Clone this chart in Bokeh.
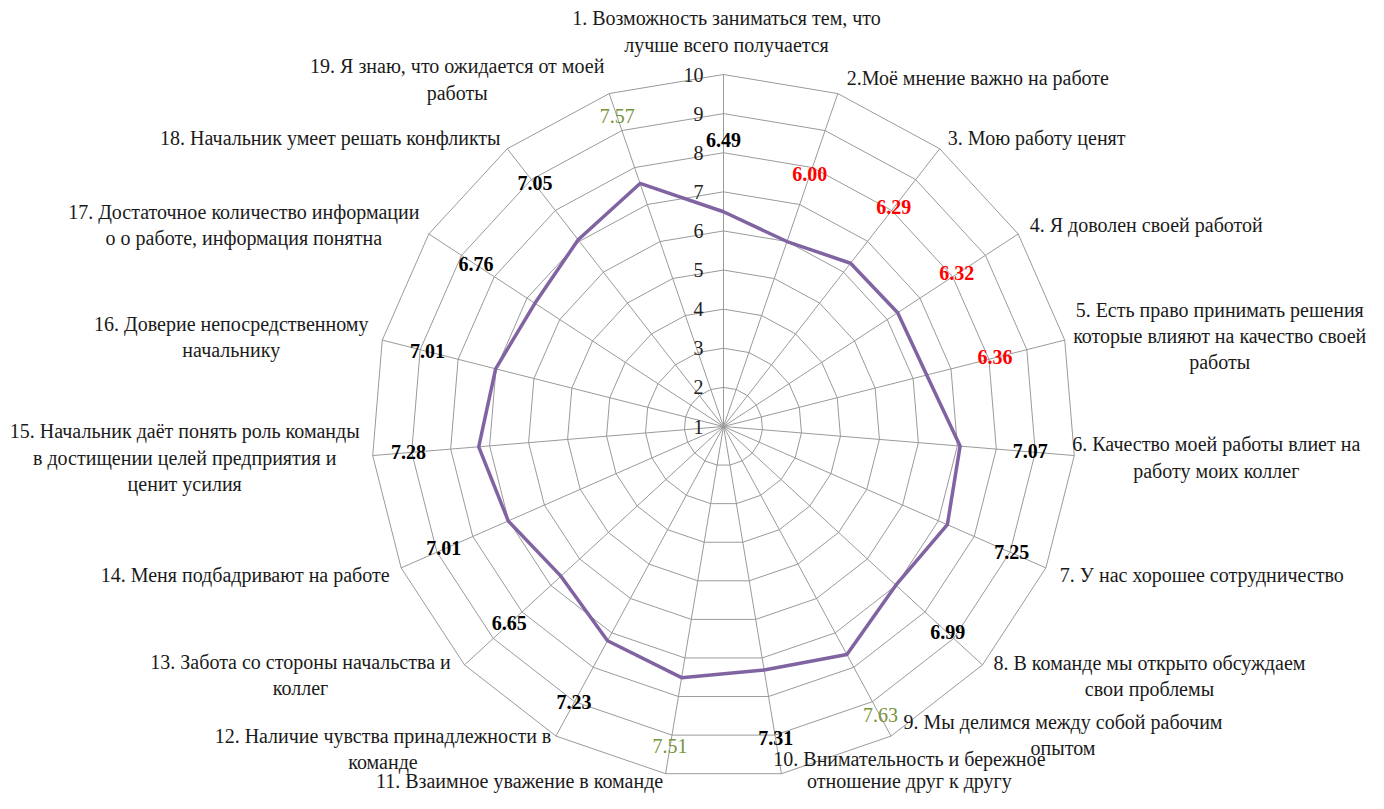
import numpy as np
from bokeh.plotting import figure
from bokeh.models import Range1d, ColumnDataSource
from bokeh.embed import file_html
from bokeh.resources import INLINE
from bokeh.core.properties import value

# ---------------- data ----------------
categories = [
    "1. Возможность заниматься тем, что\nлучше всего получается",
    "2.Моё мнение важно на работе",
    "3. Мою работу ценят",
    "4. Я доволен своей работой",
    "5. Есть право принимать решения\nкоторые влияют на качество своей\nработы",
    "6. Качество моей работы влиет на\nработу моих коллег",
    "7. У нас хорошее сотрудничество",
    "8. В команде мы открыто обсуждаем\nсвои проблемы",
    "9. Мы делимся между собой рабочим\nопытом",
    "10. Внимательность и бережное\nотношение друг к другу",
    "11. Взаимное уважение в команде",
    "12. Наличие чувства принадлежности в\nкоманде",
    "13. Забота со стороны начальства и\nколлег",
    "14. Меня подбадривают на работе",
    "15. Начальник даёт понять роль команды\nв достищении целей предприятия и\nценит усилия",
    "16. Доверие непосредственному\nначальнику",
    "17. Достаточное количество информации\nо о работе, информация понятна",
    "18. Начальник умеет решать конфликты",
    "19. Я знаю, что ожидается от моей\nработы",
]
scores = [6.49, 6.00, 6.29, 6.32, 6.36, 7.07, 7.25, 6.99, 7.63, 7.31,
          7.51, 7.23, 6.65, 7.01, 7.28, 7.01, 6.76, 7.05, 7.57]
score_groups = ["mid", "low", "low", "low", "low", "mid", "mid", "mid", "high", "mid",
                "high", "mid", "mid", "mid", "mid", "mid", "mid", "mid", "high"]
scale_ticks = [1, 2, 3, 4, 5, 6, 7, 8, 9, 10]

# ---------------- layout / style ----------------
W, H = 1368, 793
CX, CY = 723, 426          # centre of the radar in canvas pixels (from top-left)
R_PX = 352                 # radius of the outer ring (value 10)
V_MIN, V_MAX = 1, 10
FONT = "Liberation Serif"
FS = "20px"
TEXT_DY = -1               # baseline correction (pixels, downwards)
GRID = "#9A9A9A"
LINE = "#8064A2"
group_color = {"low": "#FF0000", "mid": "#000000", "high": "#77933C"}
group_style = {"low": "bold", "mid": "bold", "high": "normal"}
LABEL_OFFSET = 1.8         # data label distance outward from the point (value units)
# category label block centre, pixel offset from the outer vertex (dx right, dy down)
cat_offsets = [(3, -42), (140, -15), (97, -10), (128, -8), (155, -3), (142, 3),
               (156, 8), (167, 12), (172, 0), (128, -3), (-146, 8), (-173, 14),
               (-164, 11), (-156, 8), (-188, 3), (-151, -2), (-185, -8), (-177, -10),
               (-152, -13)]
cat_line_heights = [1.2] * 9 + [1.0] + [1.2] * 9

n = len(categories)
ang = np.pi / 2 - 2 * np.pi * np.arange(n) / n


def rad(v):
    return (np.asarray(v, dtype=float) - V_MIN) / (V_MAX - V_MIN) * R_PX


p = figure(width=W, height=H, output_backend="svg", toolbar_location=None,
           x_range=Range1d(-CX, W - CX), y_range=Range1d(-(H - CY), CY),
           min_border=0, title=None)
p.axis.visible = False
p.grid.visible = False
p.outline_line_color = None
p.background_fill_color = "white"
p.border_fill_color = "white"

# rings
ring_xs, ring_ys = [], []
for t in scale_ticks[1:]:
    r = rad(t)
    xs = list(r * np.cos(ang)) + [r * np.cos(ang[0])]
    ys = list(r * np.sin(ang)) + [r * np.sin(ang[0])]
    ring_xs.append(xs)
    ring_ys.append(ys)
p.multi_line(ring_xs, ring_ys, line_color=GRID, line_width=1)

# spokes
r_out = rad(V_MAX)
p.segment(x0=np.zeros(n), y0=np.zeros(n), x1=r_out * np.cos(ang), y1=r_out * np.sin(ang),
          line_color=GRID, line_width=1)

# scale labels along the vertical axis
p.text(x=np.full(len(scale_ticks), -20.0), y=rad(scale_ticks) - 1,
       text=[str(t) for t in scale_ticks], text_align="right", text_baseline="middle",
       y_offset=TEXT_DY,
       text_font=value(FONT), text_font_size=FS, text_color="#222222")

# series line
rs = rad(scores)
lx = list(rs * np.cos(ang)) + [rs[0] * np.cos(ang[0])]
ly = list(rs * np.sin(ang)) + [rs[0] * np.sin(ang[0])]
p.line(lx, ly, line_color=LINE, line_width=3.5, line_join="round")

# data labels
rl = rad(np.array(scores) + LABEL_OFFSET)
src = ColumnDataSource(dict(
    x=rl * np.cos(ang), y=rl * np.sin(ang),
    text=[f"{s:.2f}" for s in scores],
    color=[group_color[g] for g in score_groups],
    style=[group_style[g] for g in score_groups],
))
p.text(x="x", y="y", text="text", source=src, text_color="color", text_font_style="style",
       text_align="center", text_baseline="middle", y_offset=TEXT_DY,
       text_font=value(FONT), text_font_size=FS)

# category labels
cx = r_out * np.cos(ang) + np.array([o[0] for o in cat_offsets])
cy = r_out * np.sin(ang) - np.array([o[1] for o in cat_offsets])
for i in range(n):
    p.text(x=[cx[i]], y=[cy[i]], text=[categories[i]], text_align="center",
           text_baseline="middle", y_offset=TEXT_DY,
           text_font=value(FONT), text_font_size=FS, text_color="#1a1a1a",
           text_line_height=cat_line_heights[i])

open("out.html", "w").write(file_html(p, INLINE))
